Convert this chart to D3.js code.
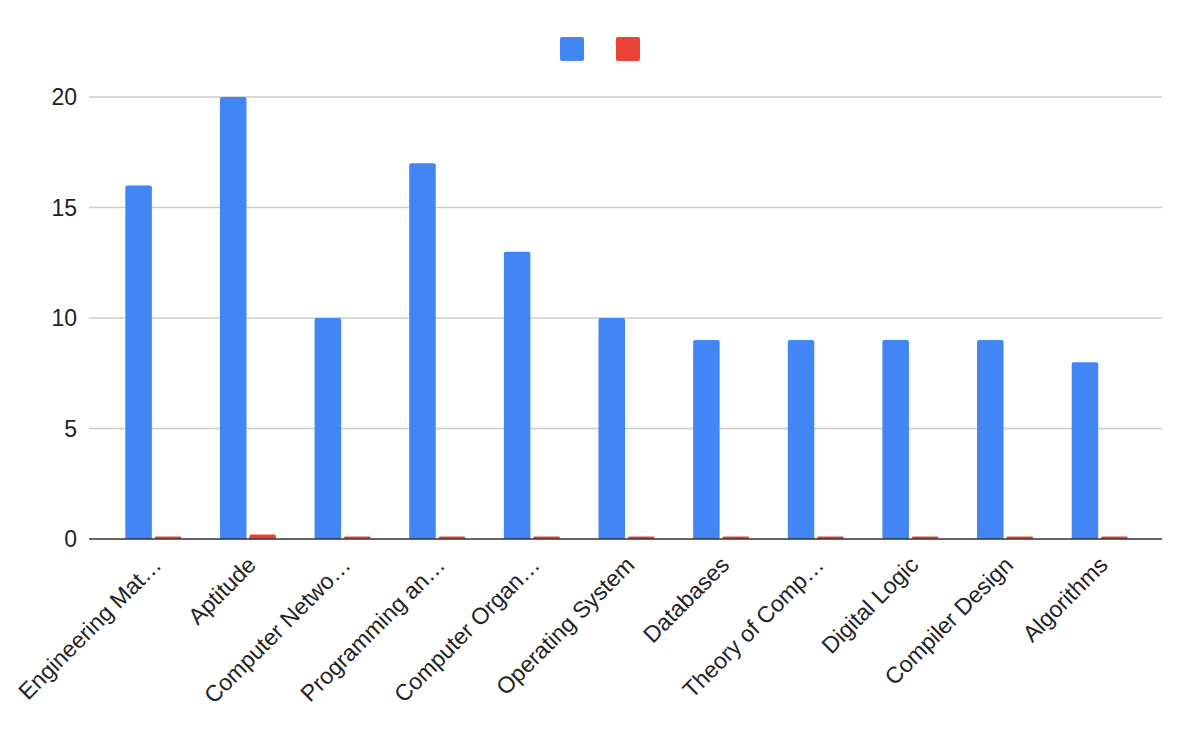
<!DOCTYPE html>
<html>
<head>
<meta charset="utf-8">
<script src="https://cdn.jsdelivr.net/npm/d3@7"></script>
<style>
  body { margin: 0; background: #fff; }
  text { font-family: Arial, "Liberation Sans", sans-serif; fill: #222; }
</style>
</head>
<body>
<div id="chart"></div>
<script>
//categories as shown on the axis (long names are cut by the chart)
var subjects = ["Engineering Mat…", "Aptitude", "Computer Netwo…", "Programming an…",
  "Computer Organ…", "Operating System", "Databases", "Theory of Comp…",
  "Digital Logic", "Compiler Design", "Algorithms"];

//first series (blue) and second series (red, very small values)
var seriesA = [16, 20, 10, 17, 13, 10, 9, 9, 9, 9, 8];
var seriesB = [0.11, 0.2, 0.11, 0.11, 0.11, 0.11, 0.11, 0.11, 0.11, 0.11, 0.11];

var yTicks = [0, 5, 10, 15, 20];
var colors = ["#4285f4", "#ea4335"];

var width = 1200,
  height = 742;

var svg = d3
  .select("#chart")
  .append("svg")
  .attr("width", width)
  .attr("height", height);

var y = d3.scaleLinear().domain([0, 20]).range([539, 97]);

var x = d3
  .scaleBand()
  .domain(subjects)
  .range([106, 1147]);

//inner scale for the two bars of a group
var xs = d3
  .scaleBand()
  .domain([0, 1])
  .range([x.bandwidth() / 2 - 28, x.bandwidth() / 2 + 28])
  .paddingInner(0.1);

//gridlines
svg
  .selectAll(".grid")
  .data(yTicks.filter(function(t) { return t > 0; }))
  .enter()
  .append("line")
  .attr("x1", 89)
  .attr("x2", 1162)
  .attr("y1", function(t) { return y(t); })
  .attr("y2", function(t) { return y(t); })
  .attr("stroke", "#cccccc")
  .attr("stroke-width", 1.3);

//y tick labels
svg
  .selectAll(".ylab")
  .data(yTicks)
  .enter()
  .append("text")
  .attr("x", 77)
  .attr("y", function(t) { return y(t); })
  .attr("dy", "0.36em")
  .attr("text-anchor", "end")
  .style("font-size", "23px")
  .text(function(t) { return t; });

var rows = subjects.map(function(s, i) {
  return { name: s, values: [seriesA[i], seriesB[i]] };
});

var groups = svg
  .selectAll(".group")
  .data(rows)
  .enter()
  .append("g")
  .attr("transform", function(d) { return "translate(" + x(d.name) + ",0)"; });

groups
  .selectAll("path")
  .data(function(d) { return d.values; })
  .enter()
  .append("path")
  .attr("fill", function(v, i) { return colors[i]; })
  .attr("d", function(v, i) {
    //bar with slightly rounded top corners
    var x0 = xs(i), w = xs.bandwidth(), top = y(v), bottom = y(0);
    var r = Math.min(2, (bottom - top) / 2);
    return "M" + x0 + "," + bottom +
      "V" + (top + r) +
      "Q" + x0 + "," + top + " " + (x0 + r) + "," + top +
      "H" + (x0 + w - r) +
      "Q" + (x0 + w) + "," + top + " " + (x0 + w) + "," + (top + r) +
      "V" + bottom + "Z";
  });

//baseline
svg
  .append("line")
  .attr("x1", 89)
  .attr("x2", 1162)
  .attr("y1", y(0))
  .attr("y2", y(0))
  .attr("stroke", "#333333")
  .attr("stroke-width", 1.5);

//category labels, rotated
svg
  .selectAll(".xlab")
  .data(subjects)
  .enter()
  .append("text")
  .attr("transform", function(s) {
    return "translate(" + (x(s) + x.bandwidth() / 2 - 2) + ",555) rotate(-45)";
  })
  .attr("text-anchor", "end")
  .attr("dy", "0.7em")
  .style("font-size", "23px")
  .text(function(s) { return s; });

//legend with two swatches (series have no names)
svg
  .selectAll(".legend")
  .data(colors)
  .enter()
  .append("rect")
  .attr("x", function(c, i) { return 560 + i * 56; })
  .attr("y", 37)
  .attr("width", 24)
  .attr("height", 24)
  .attr("rx", 2)
  .attr("fill", function(c) { return c; });
</script>
</body>
</html>
